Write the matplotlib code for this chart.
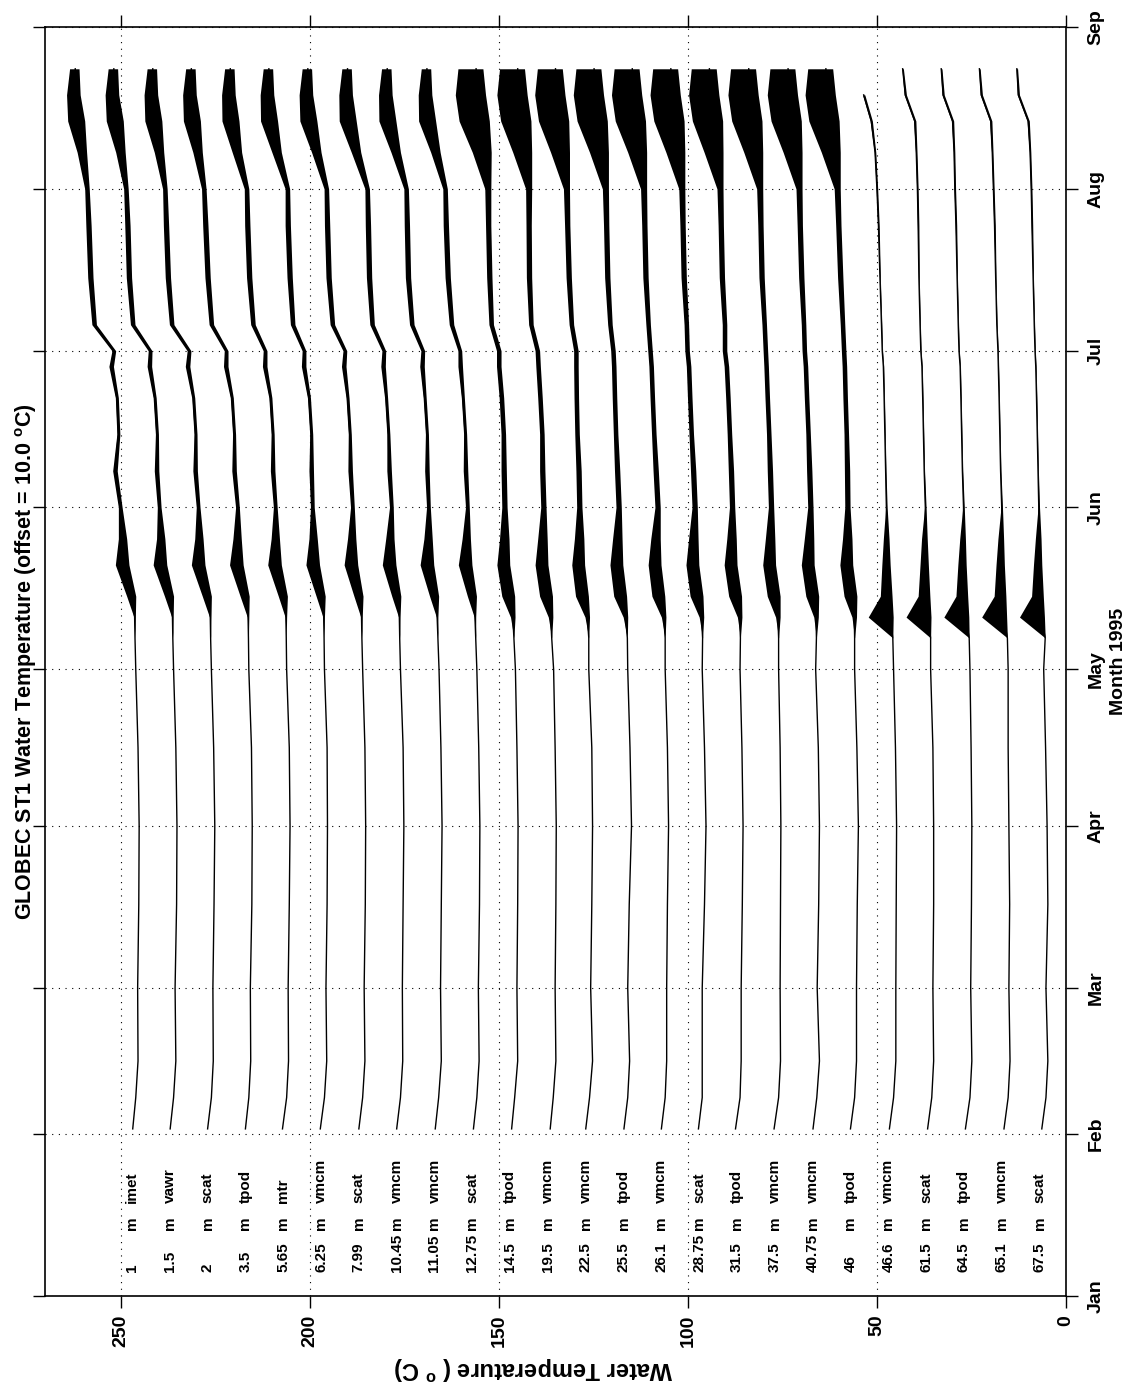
import numpy as np
import matplotlib.pyplot as plt

plt.rcParams['font.family'] = ['Liberation Sans', 'DejaVu Sans']
plt.rcParams['font.weight'] = 'bold'
plt.rcParams['mathtext.fontset'] = 'custom'
plt.rcParams['mathtext.rm'] = 'Liberation Sans:bold'
plt.rcParams['mathtext.bf'] = 'Liberation Sans:bold'

# day of year (1995) at which each trace was read
days = [32, 38, 45, 59, 75, 90, 105, 120, 126, 130, 134, 140, 145, 151, 158,
        165, 172, 178, 181, 186, 195, 205, 212, 219, 225, 230, 235]

depths = ['1', '1.5', '2', '3.5', '5.65', '6.25', '7.99', '10.45', '11.05',
          '12.75', '14.5', '19.5', '22.5', '25.5', '26.1', '28.75', '31.5',
          '37.5', '40.75', '46', '46.6', '61.5', '64.5', '65.1', '67.5']
instruments = ['imet', 'vawr', 'scat', 'tpod', 'mtr', 'vmcm', 'scat', 'vmcm',
               'vmcm', 'scat', 'tpod', 'vmcm', 'vmcm', 'tpod', 'vmcm', 'scat',
               'tpod', 'vmcm', 'vmcm', 'tpod', 'vmcm', 'scat', 'tpod', 'vmcm',
               'scat']
offsets = [240, 230, 220, 210, 200, 190, 180, 170, 160, 150, 140, 130, 120,
           110, 100, 90, 80, 70, 60, 50, 40, 30, 20, 10, 0]
groups = ['u'] * 10 + ['m'] * 10 + ['d'] * 5

# temperatures (deg C, without offset)
t_1 = [6.8, 6.0, 5.4, 5.5, 5.2, 5.1, 5.4, 6.0, 6.2, 6.3, 6.8, 9.0, 9.2, 10.1, 11.5, 10.6, 11.0, 12.5, 11.8, 17.0, 18.0, 18.5, 18.9, 20.0, 21.0, 22.0, 22.0]
t_1_5 = [6.9, 6.0, 5.4, 5.6, 5.2, 5.1, 5.4, 6.0, 6.2, 6.3, 6.8, 9.0, 9.1, 9.8, 10.5, 10.4, 11.0, 12.4, 12.2, 16.8, 17.8, 18.2, 18.6, 19.8, 20.8, 21.8, 21.8]
t_2 = [7.0, 6.0, 5.5, 5.6, 5.3, 5.1, 5.4, 6.0, 6.2, 6.3, 6.8, 8.9, 9.0, 9.5, 10.3, 10.2, 10.8, 12.3, 11.9, 16.5, 17.5, 18.0, 18.3, 19.6, 20.6, 21.5, 21.5]
t_3_5 = [7.0, 6.1, 5.6, 5.7, 5.3, 5.2, 5.4, 6.1, 6.2, 6.3, 6.8, 8.8, 8.9, 9.1, 10.0, 10.0, 10.6, 12.2, 12.1, 16.0, 17.0, 17.6, 18.0, 19.4, 20.4, 21.3, 21.3]
t_5_65 = [7.2, 6.1, 5.6, 5.7, 5.4, 5.2, 5.4, 6.1, 6.2, 6.3, 6.7, 8.7, 8.8, 9.1, 9.8, 9.8, 10.4, 11.9, 11.8, 15.0, 16.0, 16.5, 16.7, 19.0, 20.2, 21.0, 21.0]
t_6_25 = [7.2, 6.1, 5.5, 5.7, 5.4, 5.3, 5.4, 6.1, 6.2, 6.3, 6.7, 8.6, 8.8, 9.3, 9.6, 9.6, 10.2, 11.6, 11.5, 14.5, 15.3, 15.8, 15.9, 18.5, 20.0, 20.8, 20.8]
t_7_99 = [7.0, 6.0, 5.4, 5.6, 5.3, 5.2, 5.4, 6.0, 6.2, 6.3, 6.7, 8.5, 8.6, 8.7, 9.3, 9.4, 10.0, 11.0, 10.7, 14.0, 15.0, 15.4, 15.6, 18.0, 19.6, 20.5, 20.5]
t_10_45 = [7.0, 6.0, 5.4, 5.5, 5.3, 5.1, 5.3, 6.0, 6.2, 6.3, 6.7, 8.4, 8.5, 8.4, 9.0, 9.2, 9.8, 10.6, 10.4, 13.5, 14.3, 14.6, 14.8, 17.5, 19.2, 20.0, 20.0]
t_11_05 = [6.8, 5.9, 5.2, 5.4, 5.2, 5.0, 5.3, 5.8, 6.1, 6.3, 6.7, 8.4, 8.4, 8.6, 9.0, 9.0, 9.6, 10.3, 10.1, 13.0, 14.0, 14.3, 14.5, 17.0, 18.7, 19.5, 19.5]
t_12_75 = [6.7, 5.8, 5.2, 5.4, 5.1, 5.0, 5.3, 5.8, 6.1, 6.3, 6.7, 8.3, 8.3, 8.3, 8.8, 8.9, 9.5, 10.2, 10.3, 12.5, 13.5, 14.0, 14.2, 16.5, 18.2, 19.0, 19.0]
t_14_5 = [6.6, 5.8, 5.0, 5.2, 5.0, 4.9, 5.2, 5.6, 6.0, 6.3, 7.0, 8.3, 8.3, 8.5, 8.7, 8.8, 9.3, 10.0, 10.0, 12.0, 12.5, 12.8, 12.9, 13.5, 14.5, 15.5, 16.0]
t_19_5 = [6.4, 5.6, 4.9, 5.1, 4.9, 4.8, 5.1, 5.5, 6.0, 6.3, 7.0, 8.2, 8.2, 8.2, 8.5, 8.6, 9.1, 9.6, 9.8, 11.5, 12.0, 12.1, 12.1, 12.8, 13.5, 14.5, 15.0]
t_22_5 = [7.0, 6.0, 5.2, 5.7, 5.4, 5.2, 5.4, 6.2, 6.2, 6.6, 7.5, 8.5, 8.5, 8.7, 8.9, 9.3, 9.5, 9.6, 9.6, 10.8, 11.5, 11.9, 12.1, 12.8, 13.5, 14.5, 15.0]
t_25_5 = [6.9, 5.9, 5.4, 5.9, 5.5, 4.9, 5.3, 5.9, 6.0, 6.5, 7.4, 8.4, 8.4, 8.3, 8.7, 9.1, 9.4, 9.6, 9.8, 10.6, 11.3, 11.6, 11.8, 12.5, 13.3, 14.3, 14.8]
t_26_1 = [7.0, 6.0, 5.6, 5.6, 5.4, 5.1, 5.4, 6.0, 6.0, 6.4, 7.3, 8.3, 8.3, 8.0, 8.5, 9.0, 9.4, 9.7, 10.0, 10.5, 11.2, 11.5, 11.7, 12.4, 13.2, 14.2, 14.7]
t_28_75 = [7.2, 6.2, 6.2, 6.2, 5.6, 5.2, 5.6, 6.2, 6.1, 6.4, 7.2, 8.3, 8.3, 8.2, 8.6, 9.1, 9.5, 9.8, 10.2, 10.4, 11.1, 11.4, 11.6, 12.3, 13.0, 14.0, 14.5]
t_31_5 = [7.4, 6.2, 5.9, 5.9, 5.6, 5.4, 5.7, 6.2, 6.1, 6.3, 7.0, 8.2, 8.2, 8.3, 8.6, 9.0, 9.4, 9.8, 10.3, 10.3, 11.0, 11.3, 11.5, 12.2, 12.8, 13.8, 14.3]
t_37_5 = [7.2, 6.0, 5.5, 5.6, 5.5, 5.4, 5.6, 6.0, 6.0, 6.2, 6.8, 8.0, 8.0, 8.0, 8.3, 8.6, 9.0, 9.3, 9.5, 9.8, 10.5, 10.8, 11.0, 11.7, 12.4, 13.4, 13.9]
t_40_75 = [6.9, 5.9, 5.2, 5.8, 5.4, 5.2, 5.5, 6.2, 6.0, 6.1, 6.6, 7.8, 7.7, 7.6, 7.9, 8.2, 8.6, 8.9, 9.2, 9.4, 10.0, 10.4, 10.6, 11.3, 12.0, 13.0, 13.5]
t_46 = [7.0, 5.9, 5.4, 5.4, 5.2, 4.9, 5.3, 5.9, 5.9, 6.0, 6.5, 7.6, 7.6, 7.8, 7.9, 8.1, 8.4, 8.6, 8.8, 9.1, 9.7, 10.2, 10.5, 11.2, 12.0, 13.0, 13.5]
t_46_6 = [6.7, 5.6, 5.0, 5.0, 4.9, 4.8, 5.1, 5.6, 5.8, 6.5, 6.8, 7.1, 7.3, 7.5, 7.7, 7.9, 8.1, 8.3, 8.6, 8.8, 9.2, 9.6, 10.0, 10.5, 11.5, 13.5, np.nan]
t_61_5 = [6.6, 5.5, 5.0, 5.2, 5.0, 5.0, 5.2, 5.8, 5.8, 6.5, 6.8, 7.0, 7.2, 7.2, 7.5, 7.7, 7.9, 8.1, 8.4, 8.6, 8.9, 9.1, 9.3, 9.6, 10.0, 12.5, 13.2]
t_64_5 = [6.6, 5.4, 4.9, 5.2, 5.0, 4.9, 5.1, 5.4, 5.6, 6.5, 6.8, 7.0, 7.1, 7.1, 7.4, 7.6, 7.8, 8.0, 8.3, 8.5, 8.8, 9.1, 9.4, 9.6, 10.0, 12.5, 13.0]
t_65_1 = [6.4, 5.3, 4.8, 5.1, 4.9, 5.1, 5.3, 5.3, 5.5, 6.5, 6.7, 6.9, 7.0, 7.0, 7.3, 7.5, 7.7, 7.9, 8.0, 8.3, 8.6, 8.9, 9.2, 9.5, 9.9, 12.4, 12.9]
t_67_5 = [6.4, 5.3, 4.8, 5.3, 4.8, 5.0, 5.4, 5.9, 5.5, 6.5, 6.8, 7.0, 7.1, 7.2, 7.4, 7.6, 7.8, 8.0, 8.2, 8.4, 8.7, 9.0, 9.2, 9.5, 10.0, 12.6, 13.0]

# half-width of the high-frequency (tidal / diurnal) variability band,
# plus the extra reach of the warm spikes
spread_upper = [0, 0, 0, 0, 0, 0, 0, 0, 0, 0.2, 0.8, 1.2, 0.8, 0.5, 0.6, 0.4, 0.4, 0.6, 0.5, 0.6, 0.7, 0.7, 0.6, 1.0, 1.5, 1.3, 1.0]
warm_upper = [0, 0, 0, 0, 0, 0, 0, 0, 0, 0, 0.8, 1.2, 0.6, 0, 0, 0, 0, 0, 0, 0, 0, 0, 0, 0.5, 1.5, 1.0, 0.5]
spread_mid = [0, 0, 0, 0, 0, 0, 0, 0, 0, 0.6, 1.2, 1.2, 1.0, 0.7, 0.7, 0.6, 0.6, 0.6, 0.6, 0.6, 0.7, 0.7, 0.8, 1.5, 2.0, 2.0, 1.8]
warm_mid = [0, 0, 0, 0, 0, 0, 0, 0, 0, 0, 1.0, 1.0, 0.5, 0, 0, 0, 0, 0, 0, 0, 0, 0, 0, 2.0, 4.0, 4.0, 3.0]
spread_deep = [0, 0, 0, 0, 0, 0, 0, 0, 0, 0.8, 0.8, 0.6, 0.5, 0.2, 0.1, 0.1, 0.1, 0.1, 0.1, 0.1, 0.1, 0.2, 0.2, 0.2, 0.3, 0.3, 0.2]
warm_deep = [0, 0, 0, 0, 0, 0, 0, 0, 0, 5.0, 1.5, 1.0, 0.5, 0, 0, 0, 0, 0, 0, 0, 0, 0, 0, 0, 0, 0, 0]

series = [t_1, t_1_5, t_2, t_3_5, t_5_65, t_6_25, t_7_99, t_10_45, t_11_05,
          t_12_75, t_14_5, t_19_5, t_22_5, t_25_5, t_26_1, t_28_75, t_31_5,
          t_37_5, t_40_75, t_46, t_46_6, t_61_5, t_64_5, t_65_1, t_67_5]
bands = {'u': (spread_upper, warm_upper), 'm': (spread_mid, warm_mid),
         'd': (spread_deep, warm_deep)}

month_days = [0, 31, 59, 90, 120, 151, 181, 212, 243]
month_names = ['Jan', 'Feb', 'Mar', 'Apr', 'May', 'Jun', 'Jul', 'Aug', 'Sep']
temp_ticks = [0, 50, 100, 150, 200, 250]

W, H = 1142, 1387
fig = plt.figure(figsize=(W / 100, H / 100), dpi=100)
ax = fig.add_axes([45 / W, 1 - 1296 / H, (1066 - 45) / W, (1296 - 27) / H])

y = np.array(days, dtype=float)
for temps, off, grp in zip(series, offsets, groups):
    x = np.array(temps) + off
    s = np.array(bands[grp][0])
    w = np.array(bands[grp][1])
    ax.fill_betweenx(y, x - s, x + s + w, color='k', lw=0)
    ax.plot(x, y, color='k', lw=1.0)

# trace labels: depth, "m", instrument
for dep, inst, off in zip(depths, instruments, offsets):
    for txt, d in ((dep, 4.6), ('m', 12.6), (inst, 17.8)):
        ax.text(off + 7, d, txt, rotation=90, ha='center', va='bottom',
                fontsize=11, fontweight='bold')

ax.set_xlim(270, 0)
ax.set_ylim(0, 243)
ax.set_xticks(temp_ticks)
ax.set_xticklabels([str(t) for t in temp_ticks], rotation=90)
ax.set_yticks(month_days)
ax.set_yticklabels(month_names, rotation=90, va='center')

ax.tick_params(axis='both', direction='out', length=8.5, width=1.0,
               top=True, bottom=True, left=True, right=True,
               labelleft=False, labelright=True, labelsize=14)
ax.tick_params(axis='x', pad=5)
ax.tick_params(axis='y', pad=7)
ax.grid(True, color='k', linestyle=(0, (1, 5)), lw=0.8)
for sp in ax.spines.values():
    sp.set_linewidth(1.2)

ax.set_xlabel('Water Temperature ( $^{\\mathbf{o}}$ C)', rotation=180,
              fontsize=17, fontweight='bold')
ax.xaxis.set_label_coords(0.478, -0.0567)
ax.xaxis.label.set_va('center')

ax.yaxis.set_label_position('right')
ax.set_ylabel('Month 1995', rotation=90, fontsize=14, fontweight='bold')
ax.yaxis.set_label_coords(1.051, 0.5)
ax.yaxis.label.set_ha('center')
ax.yaxis.label.set_va('center')

fig.text(26 / W, 1 - 661.5 / H,
         'GLOBEC ST1 Water Temperature (offset = 10.0 $^{\\mathbf{o}}$C)',
         rotation=90, ha='center', va='center', fontsize=15.5,
         fontweight='bold')

fig.savefig('out.png', dpi=100)
